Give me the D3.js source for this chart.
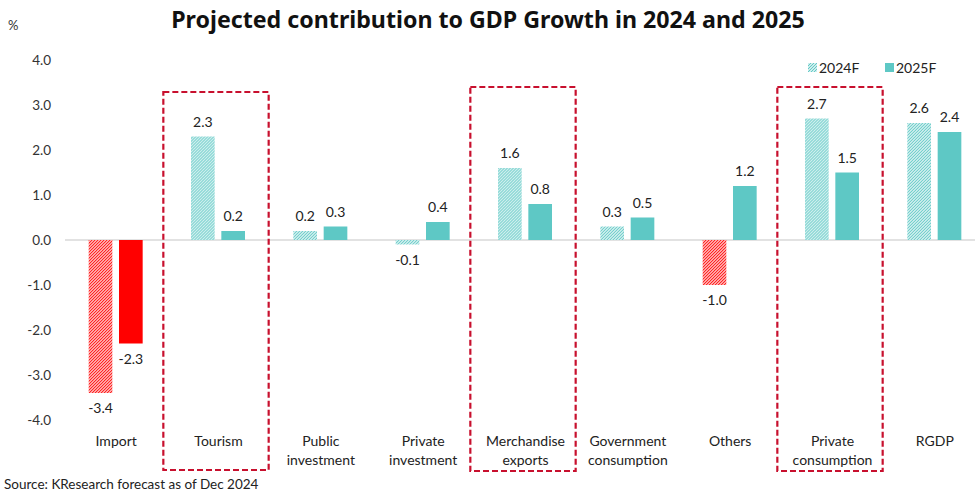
<!DOCTYPE html>
<html>
<head>
<meta charset="utf-8">
<script src="https://cdn.jsdelivr.net/npm/d3@7"></script>
<style>
  html, body { margin: 0; padding: 0; background: #fff; }
  svg { display: block; }
</style>
</head>
<body>
<svg id="chart" width="978" height="493"></svg>
<script>
// Category labels (split into lines) and contributions in percentage points
const categories = [
  ["Import"], ["Tourism"], ["Public", "investment"], ["Private", "investment"],
  ["Merchandise", "exports"], ["Government", "consumption"], ["Others"],
  ["Private", "consumption"], ["RGDP"]
];
const series = ["2024F", "2025F"];
const values2024 = [-3.4, 2.3, 0.2, -0.1, 1.6, 0.3, -1.0, 2.7, 2.6];
const values2025 = [-2.3, 0.2, 0.3, 0.4, 0.8, 0.5, 1.2, 1.5, 2.4];
const yTicks = [4, 3, 2, 1, 0, -1, -2, -3, -4];
// Categories framed with a dashed box
const highlighted = [1, 4, 7];

const title = "Projected contribution to GDP Growth in 2024 and 2025";
const source = "Source: KResearch forecast as of Dec 2024";

const TEAL = "#5ec8c5";
const RED = "#ff0000";
const BOX = "#c8102e";
const FONT = "Lato, 'Open Sans', sans-serif";

// One decimal, plain hyphen for negatives
const fmt = v => d3.format(".1f")(v).replace("\u2212", "-");

const svg = d3.select("#chart");
const defs = svg.append("defs");

// Diagonal hatch patterns for the forecast-2024 bars
function hatch(id, color) {
  const p = defs.append("pattern")
    .attr("id", id)
    .attr("patternUnits", "userSpaceOnUse")
    .attr("width", 3).attr("height", 3);
  p.append("rect").attr("width", 3).attr("height", 3).attr("fill", "#fff");
  p.append("path")
    .attr("d", "M-1,1 l2,-2 M0,3 l3,-3 M2,4 l2,-2")
    .attr("stroke", color).attr("stroke-width", 1.2);
}
hatch("hatchTeal", TEAL);
hatch("hatchRed", RED);

const keys = d3.range(categories.length);
const x = d3.scaleBand().domain(keys).range([65, 986]).paddingInner(0).paddingOuter(0);
const y = d3.scaleLinear().domain([-4, 4]).range([420, 60]);
const sub = d3.scaleBand().domain(series).range([-27.5, 26.5]).paddingInner(0.22);

const rows = keys.map(i => ({ i, vals: [values2024[i], values2025[i]] }));

// Title
svg.append("text")
  .attr("x", 488).attr("y", 28)
  .attr("text-anchor", "middle")
  .attr("font-family", "'Noto Sans', sans-serif")
  .attr("font-weight", "bold")
  .attr("font-size", 23.2)
  .attr("fill", "#111")
  .text(title);

// Unit label
svg.append("text")
  .attr("x", 8).attr("y", 30)
  .attr("font-family", FONT).attr("font-size", 13).attr("fill", "#333")
  .text("%");

// Y axis tick labels
const yAxis = d3.axisLeft(y).tickValues(yTicks).tickFormat(fmt).tickSize(0).tickPadding(0);
const yg = svg.append("g").attr("transform", "translate(51,0)").call(yAxis);
yg.select(".domain").remove();
yg.selectAll("text")
  .attr("font-family", FONT).attr("font-size", 13.5).attr("fill", "#333");

// Zero baseline
svg.append("line")
  .attr("x1", 65).attr("x2", 975)
  .attr("y1", y(0)).attr("y2", y(0))
  .attr("stroke", "#d9d9d9").attr("stroke-width", 1.3);

// Bars
const barFill = (s, v) => {
  const neg = v <= -1;
  if (s === "2024F") return neg ? "url(#hatchRed)" : "url(#hatchTeal)";
  return neg ? RED : TEAL;
};

const groups = svg.append("g").selectAll("g")
  .data(rows).join("g")
  .attr("transform", d => `translate(${x(d.i) + x.bandwidth() / 2},0)`);

groups.selectAll("rect")
  .data(d => series.map((s, k) => ({ s, v: d.vals[k] })))
  .join("rect")
  .attr("x", d => sub(d.s))
  .attr("width", sub.bandwidth())
  .attr("y", d => y(Math.max(0, d.v)))
  .attr("height", d => Math.abs(y(d.v) - y(0)))
  .attr("fill", d => barFill(d.s, d.v));

// Value labels
groups.selectAll("text.val")
  .data(d => series.map((s, k) => ({ s, v: d.vals[k] })))
  .join("text")
  .attr("class", "val")
  .attr("x", d => sub(d.s) + sub.bandwidth() / 2)
  .attr("y", d => d.v >= 0 ? y(d.v) - 10 : y(d.v) + 20)
  .attr("text-anchor", "middle")
  .attr("font-family", FONT).attr("font-size", 14).attr("fill", "#222")
  .text(d => fmt(d.v));

// Category labels
groups.append("text")
  .attr("text-anchor", "middle")
  .attr("font-family", FONT).attr("font-size", 14).attr("fill", "#222")
  .selectAll("tspan")
  .data(d => categories[d.i])
  .join("tspan")
  .attr("x", 0)
  .attr("y", (d, k) => 446 + k * 19)
  .text(d => d);

// Dashed highlight frames
svg.append("g").selectAll("rect")
  .data(highlighted)
  .join("rect")
  .attr("x", i => x(i) - 4)
  .attr("y", i => i === 1 ? 92 : 87)
  .attr("width", x.bandwidth() + 3)
  .attr("height", i => i === 1 ? 378 : 384)
  .attr("fill", "none")
  .attr("stroke", BOX)
  .attr("stroke-width", 2.2)
  .attr("stroke-dasharray", "6,3");

// Legend
const legend = svg.append("g").attr("transform", "translate(808,63)");
series.forEach((s, k) => {
  const g = legend.append("g").attr("transform", `translate(${k * 77},0)`);
  g.append("rect").attr("width", 9).attr("height", 9)
    .attr("fill", k === 0 ? "url(#hatchTeal)" : TEAL);
  g.append("text").attr("x", 11).attr("y", 9.5)
    .attr("font-family", FONT).attr("font-size", 14).attr("fill", "#222")
    .text(s);
});

// Source note
svg.append("text")
  .attr("x", 4).attr("y", 489)
  .attr("font-family", FONT).attr("font-size", 13.5).attr("fill", "#222")
  .text(source);
</script>
</body>
</html>
